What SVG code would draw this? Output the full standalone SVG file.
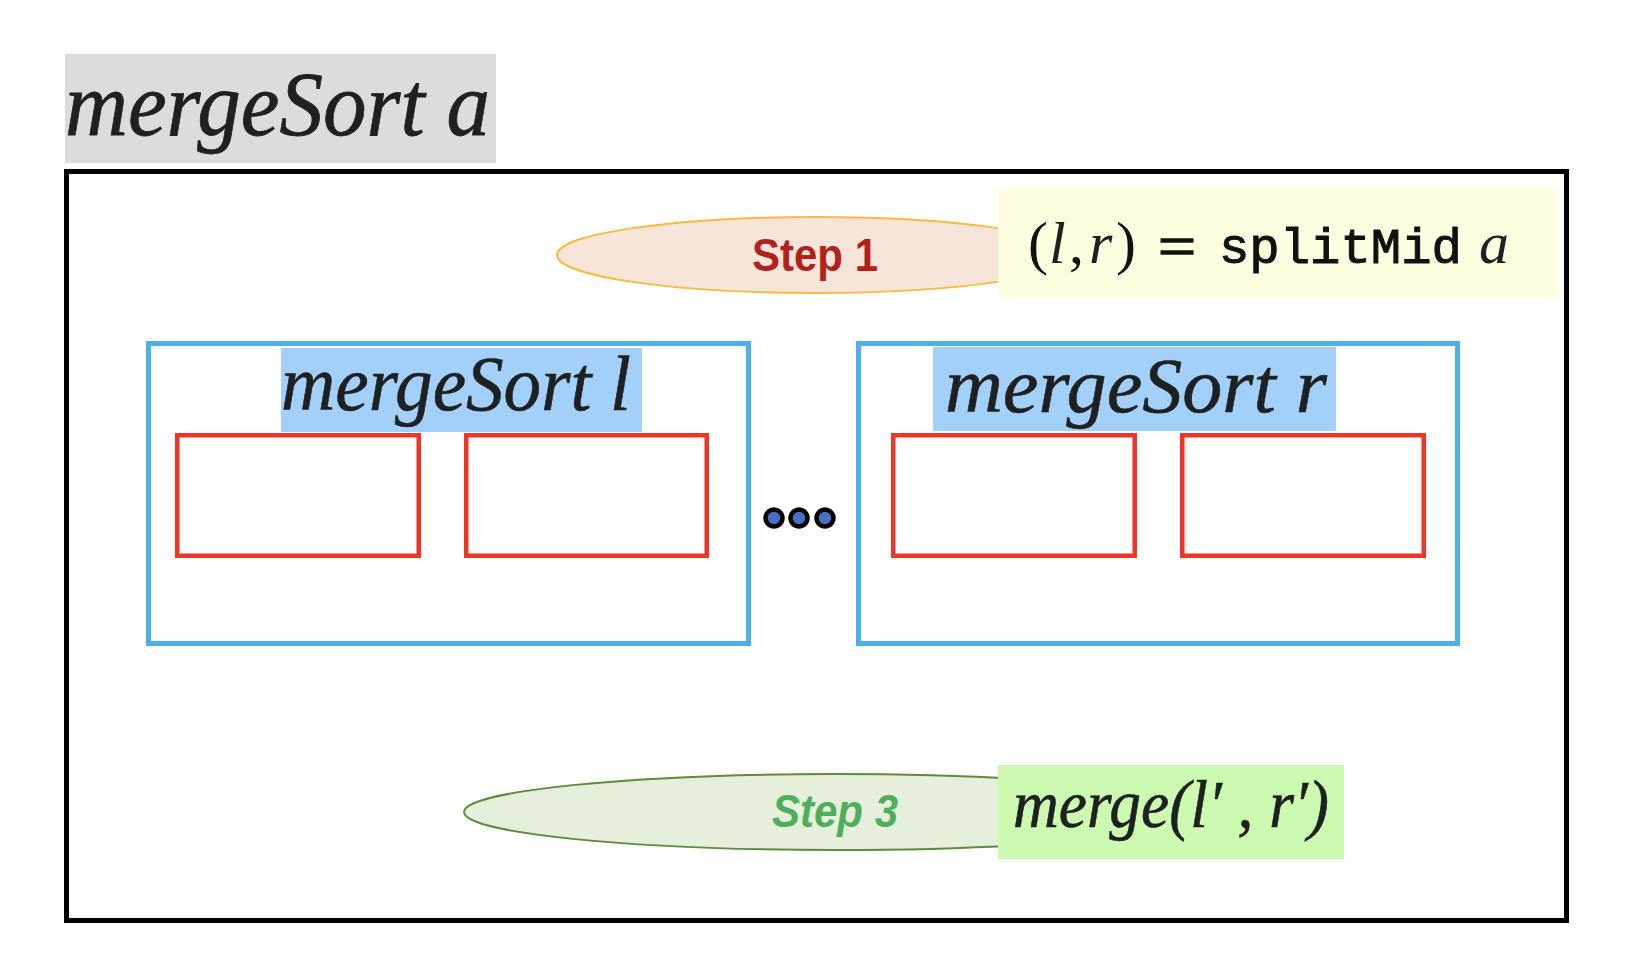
<svg xmlns="http://www.w3.org/2000/svg" width="1638" height="978" viewBox="0 0 1638 978">
<style>
.math{font-family:"Liberation Serif","DejaVu Serif",serif;font-style:italic;fill:#1e2022}
.rm{font-family:"Liberation Serif","DejaVu Serif",serif;font-style:normal;fill:#111}
.mono{font-family:"Liberation Mono","DejaVu Sans Mono",monospace;fill:#111;stroke:#111;stroke-width:1}
.blue{fill:#ffffff;stroke:#4cb0ea;stroke-width:5}
.red{fill:#ffffff;stroke:#ee3526;stroke-width:4.5}
.hl{fill:#a3d0f9}
.dot{fill:#4a6fc2;stroke:#000;stroke-width:4.5}
</style>
<rect width="1638" height="978" fill="#ffffff"/>
<g id="title">
<rect x="65" y="54" width="431" height="109" fill="#dcdcdc"/>
<text class="math" x="65" y="135" font-size="92" textLength="425" lengthAdjust="spacingAndGlyphs" stroke="#1e2022" stroke-width="0.8">mergeSort a</text>
</g>
<g id="outer">
<rect x="66.5" y="171.5" width="1500" height="749" fill="none" stroke="#000" stroke-width="5"/>
</g>
<g id="step1">
<ellipse cx="815" cy="255" rx="258" ry="38" fill="#f6e5d8" stroke="#f5bc3e" stroke-width="2"/>
<text x="815" y="271" font-family="Liberation Sans, Arial, sans-serif" font-weight="bold" font-size="46" fill="#b0221b" text-anchor="middle" textLength="126" lengthAdjust="spacingAndGlyphs">Step 1</text>
</g>
<g id="split">
<rect x="998" y="188" width="559" height="109" fill="#fefde0"/>
<text y="263" font-size="60"><tspan class="rm" x="1028">(</tspan><tspan class="math" x="1049">l</tspan><tspan class="rm" x="1069">,</tspan><tspan class="math" x="1089">r</tspan><tspan class="rm" x="1116">)</tspan><tspan class="rm" x="1158" y="266" font-size="60" stroke="#111" stroke-width="1.5" textLength="38" lengthAdjust="spacingAndGlyphs">=</tspan><tspan class="mono" x="1219" y="263" font-size="50" textLength="243" lengthAdjust="spacingAndGlyphs">splitMid</tspan><tspan class="math" x="1479">a</tspan></text>
</g>
<g id="left">
<rect class="blue" x="148.5" y="343.5" width="600" height="300"/>
<rect class="hl" x="281" y="348" width="361" height="84"/>
<text class="math" x="281" y="410" font-size="78" textLength="350" lengthAdjust="spacingAndGlyphs" stroke="#1e2022" stroke-width="0.6">mergeSort l</text>
<rect class="red" x="177.25" y="435.25" width="241.5" height="120.5"/>
<rect class="red" x="466.25" y="435.25" width="240.5" height="120.5"/>
</g>
<g id="dots">
<circle class="dot" cx="774" cy="518" r="8.5"/>
<circle class="dot" cx="799" cy="518" r="8.5"/>
<circle class="dot" cx="825" cy="518" r="8.5"/>
</g>
<g id="right">
<rect class="blue" x="858.5" y="343.5" width="599" height="300"/>
<rect class="hl" x="933" y="347" width="403" height="84"/>
<text class="math" x="945" y="412" font-size="78" textLength="382" lengthAdjust="spacingAndGlyphs" stroke="#1e2022" stroke-width="0.6">mergeSort r</text>
<rect class="red" x="893.25" y="435.25" width="241.5" height="120.5"/>
<rect class="red" x="1182.25" y="435.25" width="241.5" height="120.5"/>
</g>
<g id="step3">
<ellipse cx="835" cy="812" rx="371" ry="38" fill="#e5efdb" stroke="#5f8b3c" stroke-width="2"/>
<text x="835" y="827" font-family="Liberation Sans, Arial, sans-serif" font-weight="bold" font-style="italic" font-size="47" fill="#4fae5c" text-anchor="middle" textLength="126" lengthAdjust="spacingAndGlyphs">Step 3</text>
</g>
<g id="merge">
<rect x="998" y="765" width="346" height="94" fill="#ccfab0"/>
<text class="math" x="1013" y="827" font-size="68" textLength="316" lengthAdjust="spacingAndGlyphs" stroke="#1e2022" stroke-width="0.6">merge(l′ , r′)</text>
</g>
<g id="connectors"/>
</svg>
